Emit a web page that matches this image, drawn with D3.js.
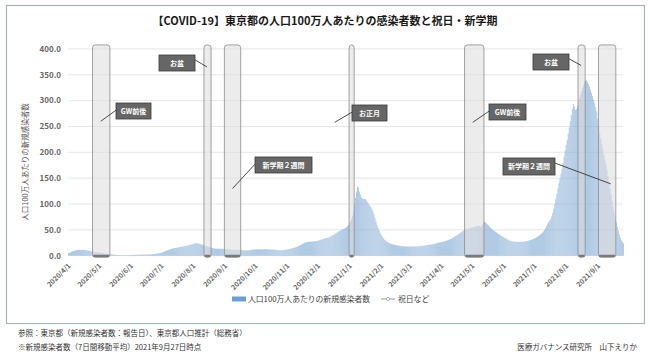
<!DOCTYPE html>
<html><head><meta charset="utf-8">
<script src="https://cdn.jsdelivr.net/npm/d3@7"></script>
<style>
body{margin:0;background:#fff}
svg{display:block}
text{font-family:"Noto Sans CJK JP","Noto Sans",sans-serif}
</style>
</head><body>
<svg id="c" width="650" height="358"></svg>
<script>
// ---- data: new cases per 1M population (7-day avg), Tokyo ----
const startDate = "2020-04-01";
const apr2020 = [5.0,5.8,6.6,7.4,8.2,9.0,9.6,10.2,10.6,11.0,11.2,11.4,11.2,11.0,11.1,11.3,11.0,10.6,10.3,10.0,9.6,9.2,8.9,8.6,8.2,7.8,7.4,7.0,6.7,6.4];
const may2020 = [6.1,5.9,5.6,5.3,5.0,4.7,4.4,4.1,3.8,3.5,3.1,2.8,2.5,2.2,2.0,1.8,1.6,1.4,1.2,1.1,1.0,0.9,0.8,0.7,0.7,0.7,0.8,0.9,1.0,1.1,1.2];
const jun2020 = [1.3,1.4,1.5,1.6,1.6,1.7,1.7,1.8,1.8,1.8,1.9,2.0,2.1,2.1,2.2,2.3,2.4,2.5,2.6,2.7,2.8,3.0,3.2,3.4,3.7,4.0,4.3,4.6,5.0,5.4];
const jul2020 = [5.9,6.5,7.2,8.0,8.8,9.6,10.4,11.2,12.0,12.8,13.4,13.9,14.3,14.7,15.0,15.4,15.8,16.2,16.6,17.0,17.4,17.8,18.2,18.6,19.0,19.4,19.8,20.3,20.9,21.5,22.1];
const aug2020 = [22.7,23.3,23.8,24.1,24.0,23.6,23.0,22.4,21.8,21.2,20.5,19.8,19.1,18.4,17.7,17.0,16.4,15.8,15.2,14.7,14.3,14.0,13.8,13.7,13.6,13.6,13.6,13.5,13.4,13.3,13.2];
const sep2020 = [13.0,12.8,12.6,12.4,12.2,12.0,11.8,11.6,11.5,11.4,11.4,11.5,11.6,11.6,11.5,11.3,11.1,10.9,10.7,10.5,10.4,10.3,10.3,10.5,10.8,11.1,11.4,11.7,11.9,12.1];
const oct2020 = [12.3,12.4,12.5,12.4,12.3,12.2,12.1,12.2,12.4,12.6,12.7,12.6,12.4,12.2,12.0,11.9,11.9,12.0,12.0,11.8,11.5,11.2,11.0,10.8,10.7,10.6,10.6,10.7,10.9,11.2,11.6];
const nov2020 = [12.0,12.4,12.9,13.4,13.9,14.4,15.0,15.6,16.2,16.9,17.7,18.6,19.6,20.7,21.8,22.9,24.0,24.9,25.6,26.1,26.5,26.8,27.0,27.1,27.2,27.3,27.5,27.8,28.1,28.4];
const dec2020 = [28.8,29.3,29.9,30.6,31.4,32.2,33.0,33.6,34.0,34.4,34.9,35.6,36.5,37.6,38.8,40.0,41.2,42.4,43.6,45.0,46.4,47.6,48.6,49.6,50.6,51.6,52.8,54.2,55.8,57.6,60.0];
const jan2021 = [62.5,66.0,70.5,77.0,86.0,98.0,112.0,124.0,134.5,131.0,124.0,118.0,113.0,110.5,109.5,110.0,109.0,106.5,103.5,100.0,97.0,94.0,91.0,86.0,80.0,73.0,66.0,59.5,54.0,49.0,44.5];
const feb2021 = [40.5,37.0,34.0,31.5,29.5,27.8,26.4,25.2,24.2,23.4,22.7,22.1,21.6,21.1,20.7,20.3,19.9,19.5,19.2,18.9,18.6,18.4,18.2,18.0,17.9,17.8,17.8,17.8];
const mar2021 = [17.8,17.8,17.8,17.8,17.8,17.8,17.9,18.0,18.1,18.3,18.5,18.7,18.9,19.2,19.5,19.8,20.1,20.4,20.7,21.0,21.3,21.7,22.1,22.5,22.9,23.4,23.9,24.4,24.9,25.4,26.0];
const apr2021 = [26.4,26.8,27.2,27.8,28.4,29.1,29.8,30.6,31.4,32.3,33.2,34.2,35.3,36.5,37.8,39.1,40.5,41.9,43.3,44.7,46.1,47.5,48.8,50.0,51.0,51.8,52.5,53.1,53.6,54.1];
const may2021 = [54.5,55.0,55.6,56.3,57.0,57.8,58.2,57.0,55.6,57.5,60.5,64.0,66.0,64.5,62.5,60.5,58.5,56.5,54.5,52.5,50.8,49.2,47.8,46.4,45.0,43.6,42.2,40.8,39.5,38.2,37.0];
const jun2021 = [35.8,34.6,33.4,32.2,31.1,30.1,29.2,28.5,27.9,27.5,27.2,27.0,26.9,26.8,26.8,26.8,26.8,26.9,27.0,27.1,27.3,27.6,28.0,28.5,29.0,29.6,30.3,31.0,31.8,32.6];
const jul2021 = [33.5,34.5,35.6,36.8,38.1,39.5,41.0,42.7,44.6,47.0,50.0,53.5,57.5,62.0,65.0,68.0,71.0,76.0,83.0,91.0,100.0,110.0,120.0,130.0,140.0,150.0,159.0,168.0,180.0,192.0,204.0];
const aug2021 = [214,224,236,248,260,272,284,294,288,282,284,290,297,304,311,318,324,330,335,338,339,336,332,327,321,315,309,302,295,287,279];
const sep2021 = [265,251,237,226,216,206,196,186,176,166,154,142,130,118,106,94,84,74,65,56,48,41,35,30,27,24];

// holidays / new term periods
const holidayStart = ["2020-04-25","2020-08-12","2020-09-01","2021-01-01","2021-04-24","2021-08-13","2021-09-02"];
const holidayEnd   = ["2020-05-11","2020-08-18","2020-09-16","2021-01-05","2021-05-12","2021-08-19","2021-09-18"];
const holidayValue = 400;

const yTicks = [0,50,100,150,200,250,300,350,400];
const title = "【COVID-19】東京都の人口100万人あたりの感染者数と祝日・新学期";
const yTitle = "人口100万人あたりの新規感染者数";
const legendLabels = ["人口100万人あたりの新規感染者数","祝日など"];

// annotations (label, anchor date, anchor value)
const annLabels = ["GW前後","お盆","新学期２週間","お正月","GW前後","お盆","新学期２週間"];
const annDates  = ["2020-05-03","2020-08-15","2020-09-09","2020-12-18","2021-05-02","2021-08-16","2021-09-14"];
const annValues = [260,365,130,258,258,368,139];

// ---- layout ----
const svg = d3.select("#c");
const parse = d3.timeParse("%Y-%m-%d");
const t0 = parse(startDate);
const values = [].concat(apr2020,may2020,jun2020,jul2020,aug2020,sep2020,oct2020,nov2020,dec2020,
  jan2021,feb2021,mar2021,apr2021,may2021,jun2021,jul2021,aug2021,sep2021);
const data = values.map((v,i)=>({date:d3.timeDay.offset(t0,i), v}));

const x = d3.scaleTime().domain([t0, d3.timeDay.offset(t0,544)]).range([68,624]);
const y = d3.scaleLinear().domain([0,400]).range([255.7,48.9]);

// frame
svg.append("rect").attr("x",6.5).attr("y",5.5).attr("width",638).attr("height",318)
  .attr("fill","#fff").attr("stroke","#a9b4ba").attr("stroke-width",1.2);

// title
svg.append("text").attr("x",325).attr("y",25).attr("text-anchor","middle")
  .attr("font-size",11).attr("font-weight","bold").attr("fill","#1a1a1a").text(title);

// gridlines
svg.append("g").selectAll("line").data(yTicks).join("line")
  .attr("x1",68).attr("x2",623).attr("y1",d=>y(d)).attr("y2",d=>y(d))
  .attr("stroke","#e0e0e0").attr("stroke-width",0.8);
svg.append("g").selectAll("text").data(yTicks).join("text")
  .attr("x",61).attr("y",d=>y(d)).attr("dy","0.35em").attr("text-anchor","end")
  .attr("font-size",8).attr("font-weight","bold").attr("fill","#666").text(d=>d3.format(".1f")(d));

// y title
svg.append("text").attr("transform","translate(28,162) rotate(-90)").attr("text-anchor","middle")
  .attr("font-size",7.5).attr("fill","#555").text(yTitle);

// bars
const bw = x(d3.timeDay.offset(t0,1)) - x(t0);
svg.append("g").selectAll("rect").data(data).join("rect")
  .attr("x",d=>x(d.date)).attr("width",bw*0.72)
  .attr("y",d=>y(d.v)).attr("height",d=>y(0)-y(d.v))
  .attr("fill","#84acd5").attr("fill-opacity",0.85);

// holiday boxes
const hol = holidayStart.map((s,i)=>({s:parse(s), e:d3.timeDay.offset(parse(holidayEnd[i]),1)}));
const hg = svg.append("g");
hol.forEach(h=>{
  const x0 = x(h.s), x1 = x(h.e);
  hg.append("rect").attr("x",x0).attr("width",x1-x0).attr("y",y(holidayValue)-4).attr("height",y(0)-y(holidayValue)+5.5)
    .attr("rx",3).attr("fill","#dcdcdc").attr("fill-opacity",0.55)
    .attr("stroke","#8c8c8c").attr("stroke-width",0.8);
  hg.append("rect").attr("x",x0+0.5).attr("width",x1-x0-1).attr("y",y(0)-1).attr("height",2.5)
    .attr("rx",1).attr("fill","#7a7a7a");
});

// x axis labels
const months = d3.timeMonth.range(t0, parse("2021-09-02"));
svg.append("g").selectAll("text").data(months).join("text")
  .attr("transform",d=>`translate(${x(d)+1.5},264.5) rotate(-45)`)
  .attr("text-anchor","end").attr("dy","0.35em")
  .attr("font-size",7).attr("font-weight","bold").attr("fill","#6a6a6a").text(d3.timeFormat("%Y/%-m/%-d"));

// annotations
const boxes = [
  {x:116,y:103,w:35,h:16},{x:159,y:55,w:36,h:16},{x:255,y:157,w:57,h:16},
  {x:352,y:105,w:35,h:16},{x:489,y:104,w:37,h:16},{x:533,y:54,w:36,h:16},{x:503,y:158,w:52,h:17}
];
const sides = ["left","right","left","left","left","right","right"];
const ag = svg.append("g");
annLabels.forEach((lab,i)=>{
  const b = boxes[i];
  const ax = x(parse(annDates[i])), ay = y(annValues[i]);
  const bx = sides[i]==="left" ? b.x : b.x+b.w;
  const by = sides[i]==="left" ? b.y+b.h*0.45 : b.y+b.h*0.3;
  ag.append("line").attr("x1",ax).attr("y1",ay).attr("x2",bx).attr("y2",by)
    .attr("stroke","#222").attr("stroke-width",0.8);
  ag.append("rect").attr("x",b.x).attr("y",b.y).attr("width",b.w).attr("height",b.h)
    .attr("fill","#666").attr("stroke","#3a3a3a").attr("stroke-width",0.8);
  ag.append("text").attr("x",b.x+b.w/2).attr("y",b.y+b.h/2).attr("dy","0.36em")
    .attr("text-anchor","middle").attr("font-size",7).attr("font-weight","bold")
    .attr("fill","#fff").text(lab);
});

// legend
const lg = svg.append("g");
lg.append("rect").attr("x",232).attr("y",296.5).attr("width",14).attr("height",5).attr("fill","#6f9fd0");
lg.append("text").attr("x",248).attr("y",299).attr("dy","0.35em").attr("font-size",7.8).attr("fill","#444").text(legendLabels[0]);
lg.append("line").attr("x1",381).attr("x2",395).attr("y1",299).attr("y2",299).attr("stroke","#9a9a9a").attr("stroke-width",1);
lg.append("circle").attr("cx",388).attr("cy",299).attr("r",1.6).attr("fill","#fff").attr("stroke","#9a9a9a").attr("stroke-width",0.8);
lg.append("text").attr("x",398).attr("y",299).attr("dy","0.35em").attr("font-size",7.8).attr("fill","#444").text(legendLabels[1]);

// footer
const foot = svg.append("g").attr("font-size",7.5).attr("fill","#333");
foot.append("text").attr("x",18).attr("y",333).attr("dy","0.35em").text("参照：東京都（新規感染者数：報告日）、東京都人口推計（総務省）");
foot.append("text").attr("x",18).attr("y",347).attr("dy","0.35em").text("※新規感染者数（7日間移動平均）2021年9月27日時点");
foot.append("text").attr("x",637).attr("y",347).attr("dy","0.35em").attr("text-anchor","end").text("医療ガバナンス研究所　山下えりか");
</script>
</body></html>
